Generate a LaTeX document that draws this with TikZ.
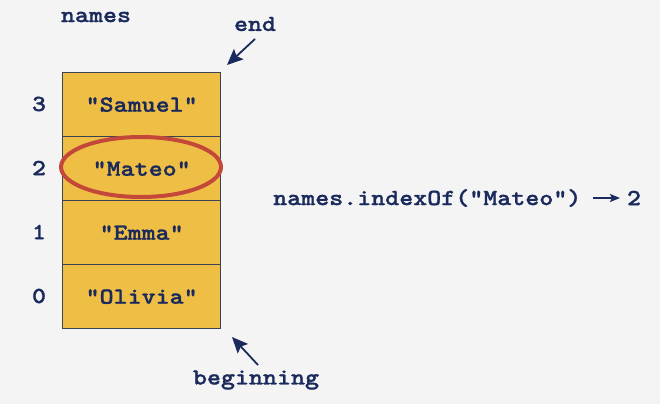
\documentclass[tikz,border=0pt]{standalone}
\usepackage{fontspec}
\newfontfamily\codefont{lmmonolt10-bold.otf}[FakeStretch=1.16,FakeBold=1.2]
\usetikzlibrary{arrows.meta,shapes.geometric}
\definecolor{bg}{HTML}{F4F4F4}
\definecolor{navy}{HTML}{1B2A5C}
\definecolor{cellfill}{HTML}{EFBE45}
\definecolor{cellline}{HTML}{3A4256}
\definecolor{ring}{HTML}{C4483A}
\tikzset{
  txt/.style={font=\fontsize{23}{24}\codefont, text=navy, inner sep=0pt},
  cell/.style={draw=cellline, line width=1.3pt, fill=cellfill, minimum width=158pt, minimum height=64pt, inner sep=0pt, anchor=north west},
  pointer/.style={draw=navy, line width=1.8pt, -{Stealth[length=16pt,width=14pt,inset=3pt]}},
  small arrow/.style={draw=navy, line width=1.5pt, -{Stealth[length=10pt,width=8pt,inset=2pt]}},
}
\begin{document}
\begin{tikzpicture}[x=1pt,y=-1pt]
\useasboundingbox[fill=bg] (0,0) rectangle (660,404);
\node[cell] (c3) at (62,72) {};
\node[cell] (c2) at (62,136) {};
\node[cell] (c1) at (62,200) {};
\node[cell] (c0) at (62,264) {};
\node[txt] (v3) at (c3.center) {"Samuel"};
\node[txt] (v2) at (c2.center) {"Mateo"};
\node[txt] (v1) at (c1.center) {"Emma"};
\node[txt] (v0) at (c0.center) {"Olivia"};
\node[txt] (i3) at (39,104) {3};
\node[txt] (i2) at (39,168) {2};
\node[txt] (i1) at (39,232) {1};
\node[txt] (i0) at (39,296) {0};
\node[draw=ring, line width=4pt, ellipse, minimum width=160pt, minimum height=60pt] (ring) at (141,167) {};
\node[txt] (names) at (96,17) {names};
\node[txt] (endl) at (255,24) {end};
\coordinate (endfrom) at (255,39);
\coordinate (endtip) at (227,65);
\draw[pointer] (endfrom) -- (endtip);
\node[txt] (begl) at (256,380) {beginning};
\coordinate (begfrom) at (258,365);
\coordinate (begtip) at (232,337);
\draw[pointer] (begfrom) -- (begtip);
\node[txt, anchor=west] (call) at (273,198) {names.indexOf("Mateo")};
\node[txt] (res) at (634,198) {2};
\coordinate (afrom) at (593,198);
\coordinate (ato) at (620,198);
\draw[small arrow] (afrom) -- (ato);
\end{tikzpicture}
\end{document}
